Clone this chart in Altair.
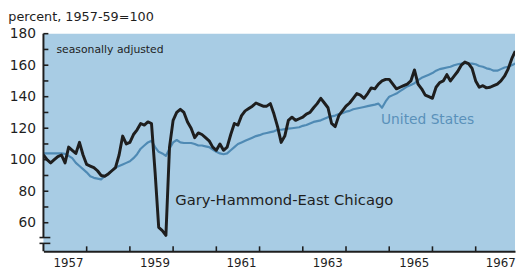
import altair as alt
import pandas as pd

FONT = "DejaVu Sans"
INK = "#1e1e1e"
BLUE_LINE = "#4f8ab4"
BLUE_TEXT = "#5a91ba"
BG = "#a8cce4"

start_year = 1957
# monthly index values, Jan 1957 .. Dec 1967 (1957-59 = 100)
gary = [103, 100, 98, 100, 102, 103, 98, 108, 106, 104, 111, 103,
        97, 96, 95, 93, 90, 89.5, 91, 93, 95, 103, 115, 110,
        111, 116, 119, 123, 122, 124, 123, 92, 57, 55, 52, 108,
        125, 130, 132, 130, 124, 120, 114, 117, 116, 114, 112, 108,
        106, 110, 106, 108, 116, 123, 122, 128, 131, 132.5, 134, 136,
        135, 134, 134, 135.6, 129, 121, 111, 115, 125, 127, 125, 126,
        127, 129, 130, 133, 135.6, 139, 136, 133, 123, 121, 128, 131,
        134, 136, 139, 142, 141, 139, 142, 145.6, 145, 148, 150, 151,
        151, 148, 145, 146, 147, 148, 150, 157, 148, 145, 141, 140,
        139, 146, 149, 150, 154, 150, 153, 156, 160, 162, 161, 158,
        150, 146, 147, 145.6, 146, 147, 148, 150, 153, 157.5, 164, 169]
us = [104, 104, 104, 104, 104, 104, 103.7, 102.5, 101, 98, 96, 94,
      92, 89.5, 88.5, 88, 87.5, 89.5, 91, 93, 95, 96, 97, 98,
      99, 101, 103.5, 107, 109, 111, 112, 108, 105, 104, 102.5, 107,
      111, 112.5, 111, 110.6, 110.6, 110.6, 110, 109, 109, 108.5, 108, 106.5,
      105, 104, 103.5, 104, 106, 108, 110, 111, 112, 113, 114, 115,
      115.6, 116.5, 117, 117.5, 118, 119, 119, 119.4, 119.7, 120, 120.3, 120.6,
      121.5, 122, 123, 124, 124.5, 125, 126, 127, 127.5, 128, 129, 129.5,
      130.5, 131, 132, 132.5, 133, 133.5, 134, 134.5, 135, 135.6, 133, 137,
      140, 141, 142, 143.5, 145, 146.5, 147.5, 148.5, 150.5, 152, 153, 154,
      155, 156.5, 157.5, 158, 158.5, 159, 160, 160.6, 161, 161.5, 161, 161,
      160.6, 159.5, 159, 158, 157.5, 156.5, 156.5, 157.5, 158.5, 159, 160, 161]

y_labels = [60, 80, 100, 120, 140, 160, 180]
y_ticks = [60, 70, 80, 90, 100, 110, 120, 130, 140, 150, 160, 170, 180]
x_year_ticks = [1958, 1959, 1960, 1961, 1962, 1963, 1964, 1965, 1966, 1967]
x_label_years = [1957, 1959, 1961, 1963, 1965, 1967]
break_values = [46.9, 50.6]
axis_lo = [41.9, 50.6]
axis_hi = [46.9, 180]

x_domain = [1957, 1967.91]
y_domain = [41.9, 180]

df = pd.DataFrame({
    "t": [start_year + i / 12 for i in range(len(gary))],
    "gary": gary,
    "us": us,
})

xs = alt.Scale(domain=x_domain, nice=False, zero=False)
ys = alt.Scale(domain=y_domain, nice=False, zero=False)

x_axis = alt.Axis(values=[y + 0.5 for y in x_label_years],
                  labelExpr="floor(datum.value)", ticks=False, grid=False,
                  title=None, domainColor=INK, domainWidth=2,
                  labelFontSize=12, labelPadding=6, labelColor=INK,
                  labelFont=FONT, labelOverlap=False, labelOffset=3)
y_axis = alt.Axis(values=y_labels, ticks=False, grid=False, domain=False,
                  title=None, labelFontSize=14, labelPadding=8,
                  labelColor=INK, labelFont=FONT, labelOverlap=False)

us_line = alt.Chart(df).mark_line(color=BLUE_LINE, strokeWidth=2.2,
                                  strokeJoin="round", clip=True).encode(
    x=alt.X("t:Q", scale=xs, axis=x_axis),
    y=alt.Y("us:Q", scale=ys, axis=y_axis),
)
gary_line = alt.Chart(df).mark_line(color=INK, strokeWidth=3,
                                    strokeJoin="round", clip=True).encode(
    x=alt.X("t:Q", scale=xs, axis=x_axis),
    y=alt.Y("gary:Q", scale=ys, axis=y_axis),
)

ytick_layer = alt.Chart(pd.DataFrame({"v": y_ticks})).mark_rule(
    color=INK, strokeWidth=1.6).encode(
    y=alt.Y("v:Q", scale=ys, axis=y_axis), x=alt.value(0), x2=alt.value(5))
xtick_layer = alt.Chart(pd.DataFrame({"yr": x_year_ticks})).mark_rule(
    color=INK, strokeWidth=1.6).encode(
    x=alt.X("yr:Q", scale=xs, axis=x_axis), y=alt.value(221), y2=alt.value(216))
yaxis_line = alt.Chart(pd.DataFrame({"lo": axis_lo, "hi": axis_hi})).mark_rule(
    color=INK, strokeWidth=2).encode(
    y=alt.Y("lo:Q", scale=ys, axis=y_axis), y2="hi:Q", x=alt.value(0))
break_layer = alt.Chart(pd.DataFrame({"v": break_values})).mark_rule(
    color=INK, strokeWidth=1.6).encode(
    y=alt.Y("v:Q", scale=ys, axis=y_axis), x=alt.value(-4), x2=alt.value(7))

def label(text, t, v, size, color):
    return alt.Chart(pd.DataFrame({"label": [text], "t": [t], "v": [v]})).mark_text(
        align="left", baseline="middle", font=FONT, fontSize=size, color=color).encode(
        x=alt.X("t:Q", scale=xs, axis=x_axis), y=alt.Y("v:Q", scale=ys, axis=y_axis),
        text="label:N")

lab1 = label("seasonally adjusted", 1957.30, 169.5, 11, INK)
lab2 = label("United States", 1964.81, 125, 14, BLUE_TEXT)
lab3 = label("Gary-Hammond-East Chicago", 1960.05, 74.5, 15, INK)

chart = alt.layer(
    us_line, gary_line, ytick_layer, xtick_layer, yaxis_line, break_layer,
    lab1, lab2, lab3,
).properties(
    width=479, height=221,
    autosize="none",
    padding={"left": 36, "top": 24, "right": 1, "bottom": 20},
    title=alt.TitleParams(text="percent, 1957-59=100", anchor="start",
                          dx=-1, offset=3, font=FONT, fontSize=13,
                          fontWeight="normal", color=INK),
).configure_view(fill=BG, strokeWidth=0).configure_axis(labelOverlap=False)

chart.save("out.html", embed_options={"renderer": "svg", "actions": False})
